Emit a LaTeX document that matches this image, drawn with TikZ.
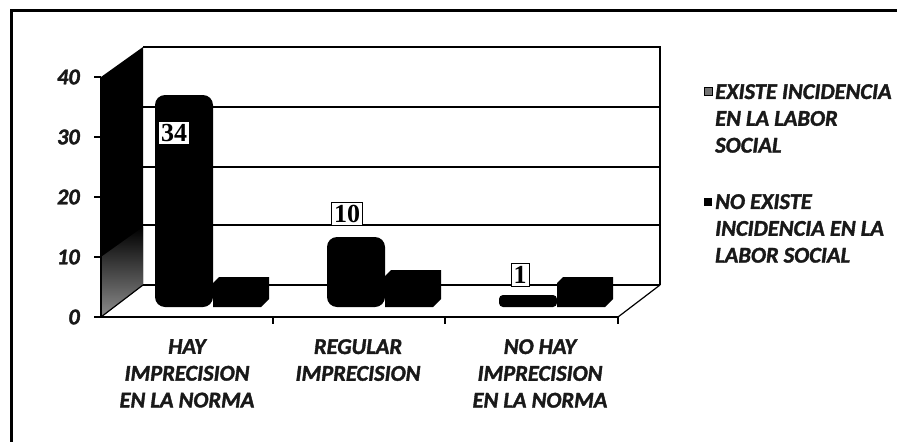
\documentclass[tikz,border=0pt]{standalone}
\usepackage{fontspec}
\setmainfont{Carlito}[BoldItalicFeatures={FakeBold=1.6}]
\newfontfamily\lblfont{Liberation Serif}
\usetikzlibrary{positioning}

\begin{document}
\begin{tikzpicture}[x=1pt,y=-1pt]
  \tikzstyle{axtxt}=[font=\fontsize{22.5}{26.8}\selectfont\bfseries\itshape, text=black!90, inner sep=0pt]
  \tikzstyle{cattxt}=[axtxt, align=center, anchor=north]
  \tikzstyle{legtxt}=[axtxt, align=left, anchor=north west]
  \tikzstyle{vallbl}=[draw, fill=white, line width=1pt, inner sep=2.5pt, font=\lblfont\fontsize{26}{26}\selectfont\bfseries]
  \tikzstyle{gridln}=[line width=1.2pt]

  \useasboundingbox (0,0) rectangle (897,442);
  % frame
  \draw[line width=3pt] (897,10) -- (11,10) -- (11,442);

  % side wall and back wall
  \fill (101,77) -- (143,47) -- (143,285) -- (101,317) -- cycle;
  \shade[top color=black, bottom color=black!45] (101,257) -- (143,227) -- (143,285) -- (101,317) -- cycle;
  \draw[line width=1.4pt] (143,47) -- (660,47) -- (660,285);
  \foreach \yy in {107,167,225,285}
    \draw[gridln] (143,\yy) -- (660,\yy);
  % floor and axes
  \draw[line width=1.2pt] (101,317) -- (143,285) (618,317) -- (660,285);
  \draw[line width=1.2pt] (101,77) -- (101,317) -- (618,317);
  \foreach \v [count=\i from 0] in {0,10,20,30,40}{
    \draw[line width=1.2pt] (94,317-60*\i) -- (101,317-60*\i);
    \node[axtxt, anchor=east] (y\v) at (80,317-60*\i) {\v};
  }
  \foreach \xx in {273,445,618}
    \draw[line width=1.2pt] (\xx,317) -- (\xx,324);

  % bars: existe
  \foreach \xa/\xb/\top/\r in {155/213/95/10, 327/385/237/10, 499/557/295/4}
    \fill[rounded corners=\r pt] (\xa,307) -- (\xa,\top) -- (\xb,\top) -- (\xb,307) -- cycle;
  % bars: no existe
  \foreach \xa/\xb/\top in {213/265/277, 385/437/270, 557/609/277}
    \fill (\xa,307) -- (\xa,\top+6) -- (\xa+6,\top) -- (\xb+4,\top) -- (\xb+4,299) -- (\xb-4,307) -- cycle;

  % values
  \node[vallbl] (v34) at (174,133) {34};
  \node[vallbl] (v10) at (347,214) {10};
  \node[vallbl] (v1) at (520,275) {1};

  % categories
  \node[cattxt] (cat1) at (187,339) {HAY\\IMPRECISION\\EN LA NORMA};
  \node[cattxt] (cat2) at (358,339) {REGULAR\\IMPRECISION};
  \node[cattxt] (cat3) at (540,339) {NO HAY\\IMPRECISION\\EN LA NORMA};

  % legend
  \draw[fill=black!55, line width=1pt] (704,87) rectangle (712,95);
  \node[legtxt] (leg1) at (715,84) {EXISTE INCIDENCIA\\EN LA LABOR\\SOCIAL};
  \fill (704,198) rectangle (712,206);
  \node[legtxt] (leg2) at (715,194) {NO EXISTE\\INCIDENCIA EN LA\\LABOR SOCIAL};
\end{tikzpicture}
\end{document}
